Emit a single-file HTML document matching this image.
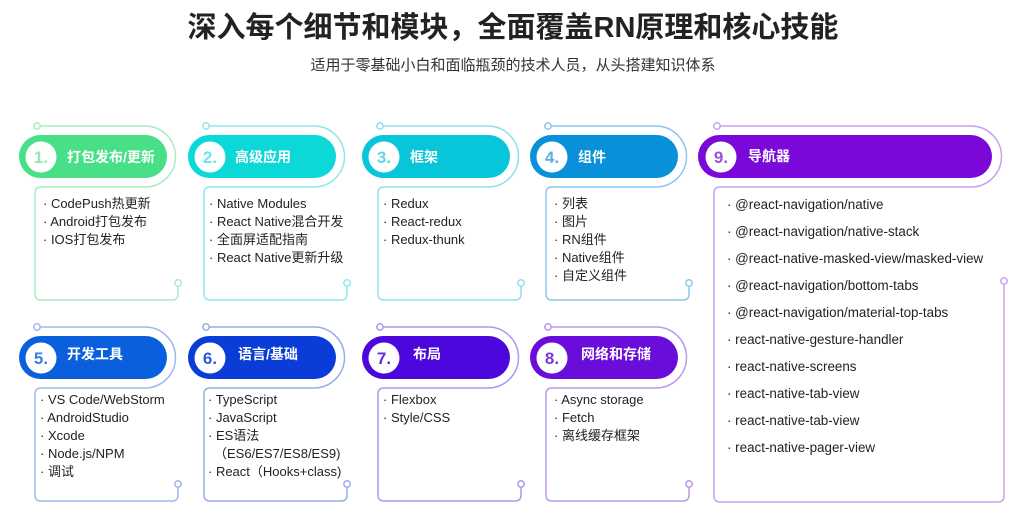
<!DOCTYPE html>
<html><head><meta charset="utf-8"><style>
html,body{margin:0;padding:0;background:#fff;}
svg{display:block;}
text{font-family:"Liberation Sans","Noto Sans CJK SC",sans-serif;}
.t{font-size:13px;fill:#222;}
.t9{font-size:13.4px;fill:#222;}
.h{font-size:14px;font-weight:bold;fill:#fff;}
.n{font-size:17px;font-weight:bold;text-anchor:middle;}
</style></head><body>
<svg width="1027" height="532" viewBox="0 0 1027 532" xmlns="http://www.w3.org/2000/svg">
<text x="513" y="37" text-anchor="middle" style="font-size:29px;font-weight:bold;fill:#222">深入每个细节和模块，全面覆盖RN原理和核心技能</text>
<text x="513" y="70" text-anchor="middle" style="font-size:15px;fill:#333">适用于零基础小白和面临瓶颈的技术人员，从头搭建知识体系</text>

<g fill="none" stroke-width="1.5">
<path stroke="#a6eec2" d="M37,126 H145 A30.5,30.5 0 0 1 145,187 H41 Q35,187 35,193 V294 Q35,300 41,300 H172 Q178,300 178,294 V286"/>
<path stroke="#8ee8ea" d="M206,126 H314 A30.5,30.5 0 0 1 314,187 H210 Q204,187 204,193 V294 Q204,300 210,300 H341 Q347,300 347,294 V286"/>
<path stroke="#8ee0ee" d="M380,126 H488 A30.5,30.5 0 0 1 488,187 H384 Q378,187 378,193 V294 Q378,300 384,300 H515 Q521,300 521,294 V286"/>
<path stroke="#8cc8ee" d="M548,126 H656 A30.5,30.5 0 0 1 656,187 H552 Q546,187 546,193 V294 Q546,300 552,300 H683 Q689,300 689,294 V286"/>
<path stroke="#c9a0ee" d="M717,126 H971 A30.5,30.5 0 0 1 971,187 H720 Q714,187 714,193 V496 Q714,502 720,502 H998 Q1004,502 1004,496 V284"/>
<path stroke="#9cb8ee" d="M37,327 H145 A30.5,30.5 0 0 1 145,388 H41 Q35,388 35,394 V495 Q35,501 41,501 H172 Q178,501 178,495 V487"/>
<path stroke="#98acec" d="M206,327 H314 A30.5,30.5 0 0 1 314,388 H210 Q204,388 204,394 V495 Q204,501 210,501 H341 Q347,501 347,495 V487"/>
<path stroke="#ae98ec" d="M380,327 H488 A30.5,30.5 0 0 1 488,388 H384 Q378,388 378,394 V495 Q378,501 384,501 H515 Q521,501 521,495 V487"/>
<path stroke="#ba98ec" d="M548,327 H656 A30.5,30.5 0 0 1 656,388 H552 Q546,388 546,394 V495 Q546,501 552,501 H683 Q689,501 689,495 V487"/>
</g>
<g fill="#fff" stroke-width="1.5">
<circle cx="37" cy="126" r="3.2" stroke="#a6eec2"/><circle cx="178" cy="283" r="3.2" stroke="#a6eec2"/>
<circle cx="206" cy="126" r="3.2" stroke="#8ee8ea"/><circle cx="347" cy="283" r="3.2" stroke="#8ee8ea"/>
<circle cx="380" cy="126" r="3.2" stroke="#8ee0ee"/><circle cx="521" cy="283" r="3.2" stroke="#8ee0ee"/>
<circle cx="548" cy="126" r="3.2" stroke="#8cc8ee"/><circle cx="689" cy="283" r="3.2" stroke="#8cc8ee"/>
<circle cx="717" cy="126" r="3.2" stroke="#c9a0ee"/><circle cx="1004" cy="281" r="3.2" stroke="#c9a0ee"/>
<circle cx="37" cy="327" r="3.2" stroke="#9cb8ee"/><circle cx="178" cy="484" r="3.2" stroke="#9cb8ee"/>
<circle cx="206" cy="327" r="3.2" stroke="#98acec"/><circle cx="347" cy="484" r="3.2" stroke="#98acec"/>
<circle cx="380" cy="327" r="3.2" stroke="#ae98ec"/><circle cx="521" cy="484" r="3.2" stroke="#ae98ec"/>
<circle cx="548" cy="327" r="3.2" stroke="#ba98ec"/><circle cx="689" cy="484" r="3.2" stroke="#ba98ec"/>
</g>

<rect x="19" y="135" width="148" height="43" rx="21.5" fill="#48e086"/>
<rect x="188" y="135" width="148" height="43" rx="21.5" fill="#0cd8d8"/>
<rect x="362" y="135" width="148" height="43" rx="21.5" fill="#08c6da"/>
<rect x="530" y="135" width="148" height="43" rx="21.5" fill="#0890d8"/>
<rect x="698" y="135" width="294" height="43" rx="21.5" fill="#7a08d8"/>
<rect x="19" y="336" width="148" height="43" rx="21.5" fill="#0a60dc"/>
<rect x="188" y="336" width="148" height="43" rx="21.5" fill="#0a3cd8"/>
<rect x="362" y="336" width="148" height="43" rx="21.5" fill="#4c08dc"/>
<rect x="530" y="336" width="148" height="43" rx="21.5" fill="#6a0cda"/>
<g fill="#fff">
<circle cx="41" cy="157" r="15.5"/><circle cx="210" cy="157" r="15.5"/><circle cx="384" cy="157" r="15.5"/><circle cx="552" cy="157" r="15.5"/><circle cx="721" cy="157" r="15.5"/>
<circle cx="41" cy="358" r="15.5"/><circle cx="210" cy="358" r="15.5"/><circle cx="384" cy="358" r="15.5"/><circle cx="552" cy="358" r="15.5"/>
</g>
<text class="n" x="41" y="163" fill="#8eeab4">1.</text>
<text class="n" x="210" y="163" fill="#6ee6e6">2.</text>
<text class="n" x="384" y="163" fill="#60d8e8">3.</text>
<text class="n" x="552" y="163" fill="#5cb0e4">4.</text>
<text class="n" x="721" y="163" fill="#9a50e0">9.</text>
<text class="n" x="41" y="364" fill="#3a7ee0">5.</text>
<text class="n" x="210" y="364" fill="#2c5ad8">6.</text>
<text class="n" x="384" y="364" fill="#5a30d8">7.</text>
<text class="n" x="552" y="364" fill="#7a38d8">8.</text>
<text class="h" x="67" y="162">打包发布/更新</text>
<text class="h" x="235" y="162">高级应用</text>
<text class="h" x="410" y="162">框架</text>
<text class="h" x="578" y="162">组件</text>
<text class="h" x="748" y="161">导航器</text>
<text class="h" x="67" y="359">开发工具</text>
<text class="h" x="238" y="359">语言/基础</text>
<text class="h" x="413" y="359">布局</text>
<text class="h" x="581" y="359">网络和存储</text>

<text class="t" x="43" y="208">·  CodePush热更新</text>
<text class="t" x="43" y="226">·  Android打包发布</text>
<text class="t" x="43" y="244">·  IOS打包发布</text>

<text class="t" x="209" y="208">· Native Modules</text>
<text class="t" x="209" y="226">· React Native混合开发</text>
<text class="t" x="209" y="244">· 全面屏适配指南</text>
<text class="t" x="209" y="262">· React Native更新升级</text>

<text class="t" x="383" y="208">· Redux</text>
<text class="t" x="383" y="226">· React-redux</text>
<text class="t" x="383" y="244">· Redux-thunk</text>

<text class="t" x="554" y="208">· 列表</text>
<text class="t" x="554" y="226">· 图片</text>
<text class="t" x="554" y="244">· RN组件</text>
<text class="t" x="554" y="262">· Native组件</text>
<text class="t" x="554" y="280">· 自定义组件</text>

<text class="t9" x="727" y="209">· @react-navigation/native</text>
<text class="t9" x="727" y="236">· @react-navigation/native-stack</text>
<text class="t9" x="727" y="263">· @react-native-masked-view/masked-view</text>
<text class="t9" x="727" y="290">· @react-navigation/bottom-tabs</text>
<text class="t9" x="727" y="317">· @react-navigation/material-top-tabs</text>
<text class="t9" x="727" y="344">· react-native-gesture-handler</text>
<text class="t9" x="727" y="371">· react-native-screens</text>
<text class="t9" x="727" y="398">· react-native-tab-view</text>
<text class="t9" x="727" y="425">· react-native-tab-view</text>
<text class="t9" x="727" y="452">· react-native-pager-view</text>

<text class="t" x="40" y="404">· VS Code/WebStorm</text>
<text class="t" x="40" y="422">· AndroidStudio</text>
<text class="t" x="40" y="440">· Xcode</text>
<text class="t" x="40" y="458">· Node.js/NPM</text>
<text class="t" x="40" y="476">· 调试</text>

<text class="t" x="208" y="404">· TypeScript</text>
<text class="t" x="208" y="422">· JavaScript</text>
<text class="t" x="208" y="440">· ES语法</text>
<text class="t" x="214" y="458">（ES6/ES7/ES8/ES9)</text>
<text class="t" x="208" y="476">· React（Hooks+class)</text>

<text class="t" x="383" y="404">· Flexbox</text>
<text class="t" x="383" y="422">· Style/CSS</text>

<text class="t" x="554" y="404">· Async storage</text>
<text class="t" x="554" y="422">· Fetch</text>
<text class="t" x="554" y="440">· 离线缓存框架</text>
</svg>
</body></html>
